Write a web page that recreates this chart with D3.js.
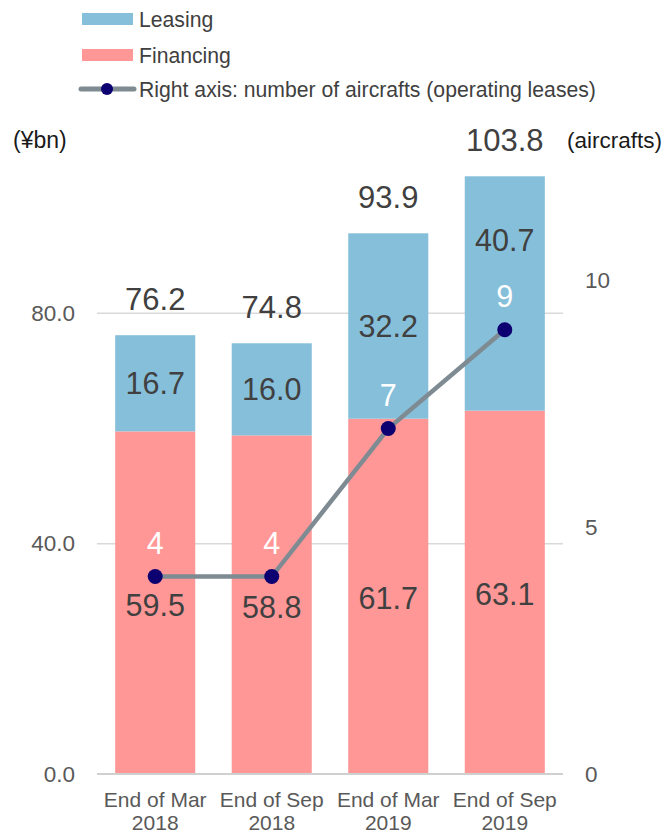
<!DOCTYPE html>
<html><head><meta charset="utf-8">
<script src="https://cdn.jsdelivr.net/npm/d3@7"></script>
<style>body{margin:0;background:#fff}svg{display:block;font-family:"Liberation Sans",Arial,sans-serif}</style>
</head><body>
<svg id="c" width="670" height="833"></svg>
<script>
const categories = [["End of Mar","2018"],["End of Sep","2018"],["End of Mar","2019"],["End of Sep","2019"]];
const financing = [59.5, 58.8, 61.7, 63.1];
const leasing = [16.7, 16.0, 32.2, 40.7];
const totals = [76.2, 74.8, 93.9, 103.8];
const aircrafts = [4, 4, 7, 9];
const leftTicks = [0, 40, 80];
const rightTicks = [0, 5, 10];
const leftTickLabels = ["0.0","40.0","80.0"];

const svg = d3.select("#c");
const keys = categories.map((c,i)=>i);
const x = d3.scaleBand().domain(keys).range([97,563]).paddingInner(0.313).paddingOuter(0.156);
const yL = d3.scaleLinear().domain([0,120]).range([774,83]);
const yR = d3.scaleLinear().domain([0,14]).range([774,83]);

const cLeas = "#86bfda", cFin = "#ff9797", cLine = "#7f8b93", cDot = "#0d0071";

// gridlines
svg.append("g").selectAll("line").data(leftTicks.filter(d=>d>0)).join("line")
  .attr("x1",97).attr("x2",563).attr("y1",d=>yL(d)).attr("y2",d=>yL(d))
  .attr("stroke","#d9d9d9").attr("stroke-width",1.5);

// left axis
const axL = d3.axisLeft(yL).tickValues(leftTicks).tickFormat((d,i)=>leftTickLabels[i]).tickSize(0).tickPadding(0);
const gL = svg.append("g").attr("transform","translate(75,0)").call(axL);
gL.select(".domain").remove();
gL.selectAll("text").attr("font-size",22.5).attr("fill","#595959").attr("font-family","Liberation Sans, Arial, sans-serif");

// right axis
const axR = d3.axisRight(yR).tickValues(rightTicks).tickSize(0).tickPadding(0);
const gR = svg.append("g").attr("transform","translate(585,0)").call(axR);
gR.select(".domain").remove();
gR.selectAll("text").attr("font-size",22.5).attr("fill","#595959").attr("font-family","Liberation Sans, Arial, sans-serif");

// bars
const bars = svg.append("g");
bars.selectAll(".fin").data(financing).join("rect").attr("class","fin")
  .attr("x",(d,i)=>x(i)).attr("width",x.bandwidth())
  .attr("y",d=>yL(d)).attr("height",d=>yL(0)-yL(d)).attr("fill",cFin);
bars.selectAll(".lea").data(leasing).join("rect").attr("class","lea")
  .attr("x",(d,i)=>x(i)).attr("width",x.bandwidth())
  .attr("y",(d,i)=>yL(financing[i]+d)).attr("height",(d,i)=>yL(financing[i])-yL(financing[i]+d)).attr("fill",cLeas);

// zero line
svg.append("line").attr("x1",97).attr("x2",563).attr("y1",yL(0)).attr("y2",yL(0))
  .attr("stroke","#d0d0d0").attr("stroke-width",2);

// line series
const cx = i => x(i) + x.bandwidth()/2;
svg.append("path").datum(aircrafts)
  .attr("d", d3.line().x((d,i)=>cx(i)).y(d=>yR(d)))
  .attr("fill","none").attr("stroke",cLine).attr("stroke-width",4.5);
svg.append("g").selectAll("circle").data(aircrafts).join("circle")
  .attr("cx",(d,i)=>cx(i)).attr("cy",d=>yR(d)).attr("r",7.5).attr("fill",cDot);

const lbl = (sel)=>sel.attr("text-anchor","middle").attr("dominant-baseline","central").attr("font-size",30.5);

// point labels
svg.append("g").selectAll("text").data(aircrafts).join("text").call(lbl)
  .attr("x",(d,i)=>cx(i)).attr("y",d=>yR(d)-34).attr("fill","#ffffff").text(d=>d);

// financing labels
svg.append("g").selectAll("text").data(financing).join("text").call(lbl)
  .attr("x",(d,i)=>cx(i)).attr("y",d=>(yL(d)+yL(0))/2+2).attr("fill","#404040").text(d=>d.toFixed(1));
// leasing labels
svg.append("g").selectAll("text").data(leasing).join("text").call(lbl)
  .attr("x",(d,i)=>cx(i))
  .attr("y",(d,i)=>Math.min((yL(financing[i])+yL(financing[i]+d))/2, yR(aircrafts[i])-34-56))
  .attr("fill","#404040").text(d=>d.toFixed(1));
// totals
svg.append("g").selectAll("text").data(totals).join("text").call(lbl)
  .attr("font-size",31)
  .attr("x",(d,i)=>cx(i)).attr("y",d=>yL(d)-36).attr("fill","#404040").text(d=>d.toFixed(1));

// category labels
const cat = svg.append("g").selectAll("text").data(categories).join("text")
  .attr("text-anchor","middle").attr("font-size",21).attr("fill","#595959")
  .attr("x",(d,i)=>cx(i)).attr("y",807);
cat.append("tspan").attr("x",(d,i)=>cx(i)).text(d=>d[0]);
cat.append("tspan").attr("x",(d,i)=>cx(i)).attr("dy",23).text(d=>d[1]);

// unit labels
svg.append("text").attr("x",13).attr("y",140).attr("dominant-baseline","central").attr("font-size",23).attr("fill","#1a1a1a").text("(¥bn)");
svg.append("text").attr("x",662).attr("y",140).attr("text-anchor","end").attr("dominant-baseline","central").attr("font-size",22.5).attr("fill","#1a1a1a").text("(aircrafts)");

// legend
const lg = svg.append("g");
const legendItems = ["Leasing","Financing","Right axis: number of aircrafts (operating leases)"];
const ly = [19, 55, 89];
lg.append("rect").attr("x",82).attr("y",ly[0]-6).attr("width",51).attr("height",12).attr("fill",cLeas);
lg.append("rect").attr("x",82).attr("y",ly[1]-6).attr("width",51).attr("height",12).attr("fill",cFin);
lg.append("line").attr("x1",81).attr("x2",134).attr("y1",ly[2]).attr("y2",ly[2]).attr("stroke",cLine).attr("stroke-width",5).attr("stroke-linecap","round");
lg.append("circle").attr("cx",107).attr("cy",ly[2]).attr("r",6).attr("fill",cDot);
lg.selectAll("text").data(legendItems).join("text").attr("x",139).attr("y",(d,i)=>ly[i])
  .attr("dominant-baseline","central").attr("font-size",21.2).attr("fill","#404040").text(d=>d);
</script>
</body></html>
